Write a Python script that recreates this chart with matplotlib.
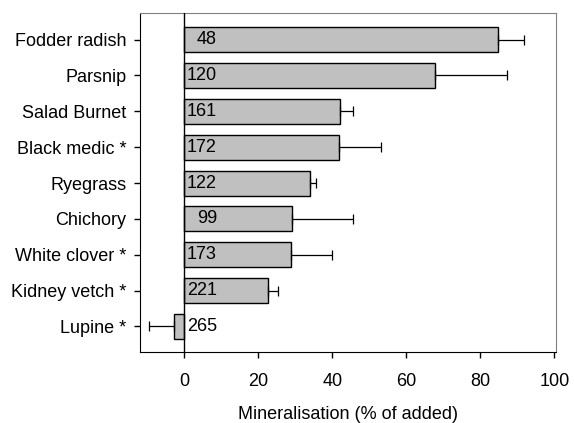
import numpy as np
import matplotlib.pyplot as plt

plt.rcParams['font.family'] = ['Liberation Sans', 'DejaVu Sans']

# species, top to bottom
species = ['Fodder radish', 'Parsnip', 'Salad Burnet', 'Black medic *', 'Ryegrass',
           'Chichory', 'White clover *', 'Kidney vetch *', 'Lupine *']
mineral = [84.8, 67.8, 42.1, 41.7, 34.0, 29.1, 28.9, 22.7, -2.7]
sem = [7.1, 19.4, 3.4, 11.4, 1.6, 16.4, 11.0, 2.6, 6.9]
cn_label = ['48', '120', '161', '172', '122', '99', '173', '221', '265']

n = len(species)
ypos = np.arange(n)[::-1]
mineral = np.array(mineral)
sem = np.array(sem)

# one-sided error bars, pointing away from zero
lo = np.where(mineral < 0, sem, 0)
hi = np.where(mineral < 0, 0, sem)

fs = 13

fig = plt.figure(figsize=(5.74, 4.23), dpi=100)
ax = fig.add_axes([0.244, 0.168, 0.725, 0.801])

ax.barh(ypos, mineral, height=0.7, color='#c0c0c0', edgecolor='black', linewidth=1, zorder=2)
ax.errorbar(mineral, ypos, xerr=[lo, hi], fmt='none', ecolor='black', elinewidth=0.9,
            capsize=3.3, capthick=0.9, zorder=3)
ax.axvline(0, color='black', linewidth=1, zorder=4)

for y, lab in zip(ypos, cn_label):
    ax.text(8.8, y, lab, ha='right', va='center', fontsize=fs, zorder=5)

ax.set_xlim(-12, 100.5)
ax.set_ylim(-0.71, n - 1 + 0.74)
ax.set_xticks([0, 20, 40, 60, 80, 100])
ax.set_yticks(ypos)
ax.set_yticklabels(species)
ax.tick_params(axis='both', labelsize=fs, length=4, width=1, direction='out', color='black')
ax.tick_params(axis='y', pad=6)
ax.tick_params(axis='x', pad=11)

for side in ['top', 'right']:
    ax.spines[side].set_color('#808080')
for side in ['left', 'bottom']:
    ax.spines[side].set_color('black')

ax.set_xlabel('Mineralisation (% of added)', fontsize=fs, labelpad=11.5)

fig.savefig('out.png', dpi=100)
